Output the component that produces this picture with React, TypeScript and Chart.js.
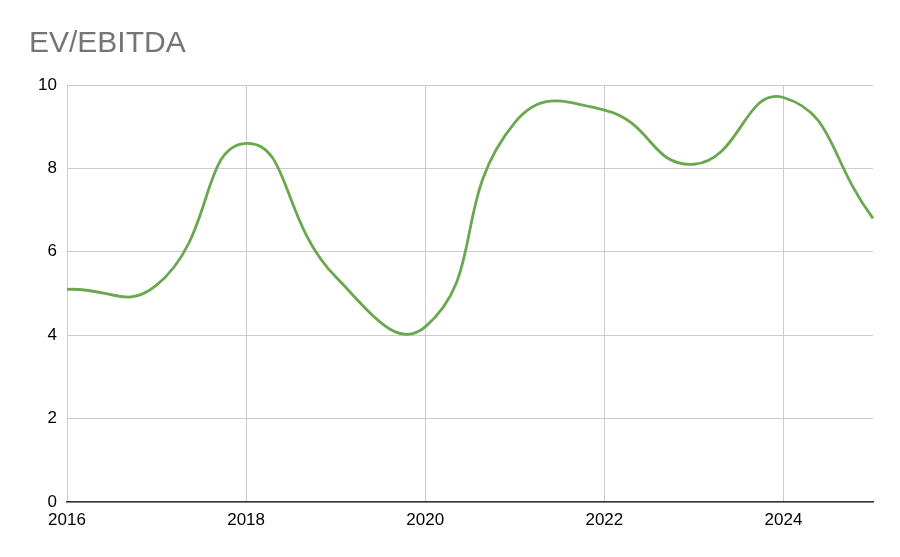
import { useEffect, useRef } from "react";
import { Chart, registerables } from "chart.js";

Chart.register(...registerables);

const years = ["2016", "2017", "2018", "2019", "2020", "2021", "2022", "2023", "2024", "2025"];
const evEbitda = [5.1, 5.2, 8.6, 5.4, 4.2, 9.1, 9.4, 8.1, 9.7, 6.8];
const yTicks = [0, 2, 4, 6, 8, 10];

export default function App() {
  const ref = useRef<HTMLCanvasElement>(null);
  const chartRef = useRef<Chart | null>(null);

  useEffect(() => {
    document.body.style.margin = "0";
    if (!ref.current) return;
    if (chartRef.current) chartRef.current.destroy();

    const font = "'Liberation Sans', Arial, sans-serif";
    const gridColor = "#cccccc";

    chartRef.current = new Chart(ref.current, {
      type: "line",
      data: {
        labels: years,
        datasets: [
          {
            label: "EV/EBITDA",
            data: evEbitda,
            borderColor: "#6aa84f",
            borderWidth: 2.8,
            pointRadius: 0,
            tension: 0.5,
            fill: false,
          },
        ],
      },
      options: {
        animation: false,
        responsive: true,
        maintainAspectRatio: false,
        layout: { padding: { left: 29, right: 27, top: 0, bottom: 0 } },
        plugins: {
          legend: { display: false },
          tooltip: { enabled: false },
          title: {
            display: true,
            text: "EV/EBITDA",
            align: "start",
            color: "#757575",
            font: { family: font, size: 30, weight: "normal" },
            padding: { top: 26, bottom: 23 },
          },
        },
        scales: {
          x: {
            grid: {
              color: (ctx) => (ctx.index % 2 === 0 ? gridColor : "rgba(0,0,0,0)"),
              drawTicks: false,
            },
            border: { display: true, color: "#333333", width: 1.5 },
            ticks: {
              color: "#000000",
              font: { family: font, size: 17 },
              padding: 8,
              autoSkip: false,
              maxRotation: 0,
              callback: (_v, i) => (i % 2 === 0 ? years[i] : ""),
            },
            afterFit: (scale) => {
              scale.height = 55;
            },
          },
          y: {
            min: yTicks[0],
            max: yTicks[yTicks.length - 1],
            grid: { color: gridColor, drawTicks: false },
            border: { display: false },
            afterBuildTicks: (scale) => {
              scale.ticks = yTicks.map((v) => ({ value: v }));
            },
            ticks: {
              color: "#000000",
              font: { family: font, size: 17 },
              padding: 10,
            },
            afterFit: (scale) => {
              scale.width = 38;
            },
          },
        },
      },
    });

    return () => chartRef.current?.destroy();
  }, []);

  return (
    <div style={{ position: "relative", width: 900, height: 557 }}>
      <canvas ref={ref} role="img" aria-label="EV/EBITDA">
        EV/EBITDA
      </canvas>
    </div>
  );
}
